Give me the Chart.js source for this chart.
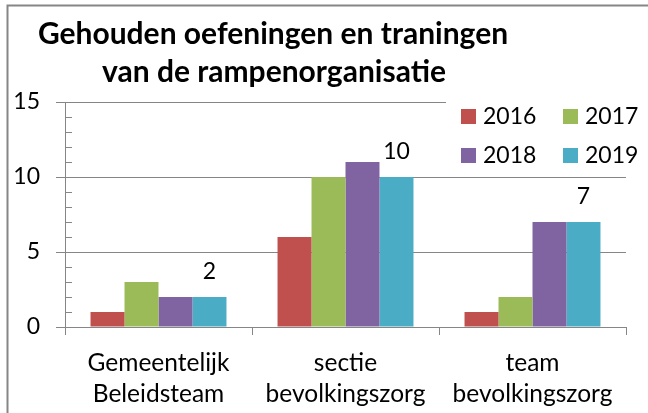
<!DOCTYPE html>
<html>
<head>
<meta charset="utf-8">
<script src="https://cdn.jsdelivr.net/npm/chart.js@4.4.1/dist/chart.umd.min.js"></script>
<style>
  html, body { margin: 0; padding: 0; background: #fff; }
  #wrap { width: 648px; height: 413px; }
</style>
</head>
<body>
<div id="wrap"><canvas id="chart" width="648" height="413"></canvas></div>
<script>
// gegevens
var categories = [
    ['Gemeentelijk', 'Beleidsteam'],
    ['sectie', 'bevolkingszorg'],
    ['team', 'bevolkingszorg']
];
var years = ['2016', '2017', '2018', '2019'];
var values2016 = [1, 6, 1];
var values2017 = [3, 10, 2];
var values2018 = [2, 11, 7];
var values2019 = [2, 10, 7];
var yTicks = [0, 5, 10, 15];
var titleLines = ['Gehouden oefeningen en traningen', 'van de rampenorganisatie'];

var colors = ['#C0504D', '#9BBB59', '#8064A2', '#4BACC6'];
var series = [values2016, values2017, values2018, values2019];
var lineGrey = '#868686';
var fontFam = 'Lato, "Open Sans", sans-serif';

Chart.defaults.font.family = fontFam;
Chart.defaults.color = '#000';

var datasets = [];
for (var i = 0; i < years.length; ++i) {
    datasets.push({
        label: years[i],
        data: series[i],
        backgroundColor: colors[i],
        borderWidth: 0,
        categoryPercentage: 0.727,
        barPercentage: 1.0
    });
}

// frame, title, legend, minor ticks and labels
var extras = {
    id: 'extras',
    beforeDraw: function (chart) {
        var ctx = chart.ctx;
        ctx.save();
        ctx.strokeStyle = lineGrey;
        ctx.lineWidth = 2;
        ctx.beginPath();
        ctx.moveTo(7.5, 413);
        ctx.lineTo(7.5, 5.5);
        ctx.lineTo(648, 5.5);
        ctx.stroke();

        ctx.fillStyle = '#000';
        ctx.font = 'bold 30px ' + fontFam;
        ctx.textAlign = 'center';
        ctx.textBaseline = 'middle';
        ctx.fillText(titleLines[0], 273, 34);
        ctx.fillText(titleLines[1], 274, 72);
        ctx.restore();
    },
    afterDatasetsDraw: function (chart) {
        var ctx = chart.ctx;
        var y = chart.scales.y;
        var area = chart.chartArea;
        ctx.save();

        // minor ticks inside the y axis
        ctx.strokeStyle = lineGrey;
        ctx.lineWidth = 1;
        ctx.beginPath();
        for (var v = y.min + 1; v < y.max; v++) {
            if (v % 5 === 0) continue;
            var py = Math.round(y.getPixelForValue(v)) + 0.5;
            ctx.moveTo(area.left, py);
            ctx.lineTo(area.left + 7, py);
        }
        ctx.stroke();

        // legend (over the plot, top right)
        ctx.fillStyle = '#fff';
        ctx.fillRect(446, 96, 194, 72);
        ctx.font = '23px ' + fontFam;
        ctx.textAlign = 'left';
        ctx.textBaseline = 'middle';
        var cols = [461, 563];
        var rows = [109, 148];
        chart.data.datasets.forEach(function (ds, k) {
            var bx = cols[k % 2];
            var by = rows[Math.floor(k / 2)];
            ctx.fillStyle = ds.backgroundColor;
            ctx.fillRect(bx, by, 15, 15);
            ctx.fillStyle = '#000';
            ctx.fillText(ds.label, bx + 22, by + 8);
        });

        // value labels of the last series
        var last = chart.data.datasets.length - 1;
        var meta = chart.getDatasetMeta(last);
        ctx.textAlign = 'center';
        meta.data.forEach(function (bar, j) {
            ctx.fillText(String(chart.data.datasets[last].data[j]), bar.x, bar.y - 25);
        });
        ctx.restore();
    }
};

var ctx = document.getElementById('chart');
var myChart = new Chart(ctx, {
    type: 'bar',
    data: { labels: categories, datasets: datasets },
    options: {
        responsive: false,
        animation: false,
        layout: { padding: { left: 0, right: 22, top: 102, bottom: 0 } },
        plugins: {
            legend: { display: false },
            title: { display: false },
            tooltip: { enabled: false }
        },
        scales: {
            x: {
                offset: true,
                grid: {
                    offset: true,
                    drawOnChartArea: false,
                    color: lineGrey,
                    tickLength: 8
                },
                border: { display: true, color: lineGrey },
                ticks: {
                    font: { size: 24.5, lineHeight: 1.25 },
                    padding: 13,
                    maxRotation: 0,
                    autoSkip: false
                },
                afterFit: function (scale) { scale.height = 86; }
            },
            y: {
                min: yTicks[0],
                max: yTicks[yTicks.length - 1],
                afterBuildTicks: function (scale) {
                    scale.ticks = yTicks.map(function (t) { return { value: t }; });
                },
                grid: { color: lineGrey, tickLength: 9 },
                border: { display: true, color: lineGrey },
                ticks: { font: { size: 23 }, padding: 16 },
                afterFit: function (scale) { scale.width = 65; }
            }
        }
    },
    plugins: [extras]
});
</script>
</body>
</html>
